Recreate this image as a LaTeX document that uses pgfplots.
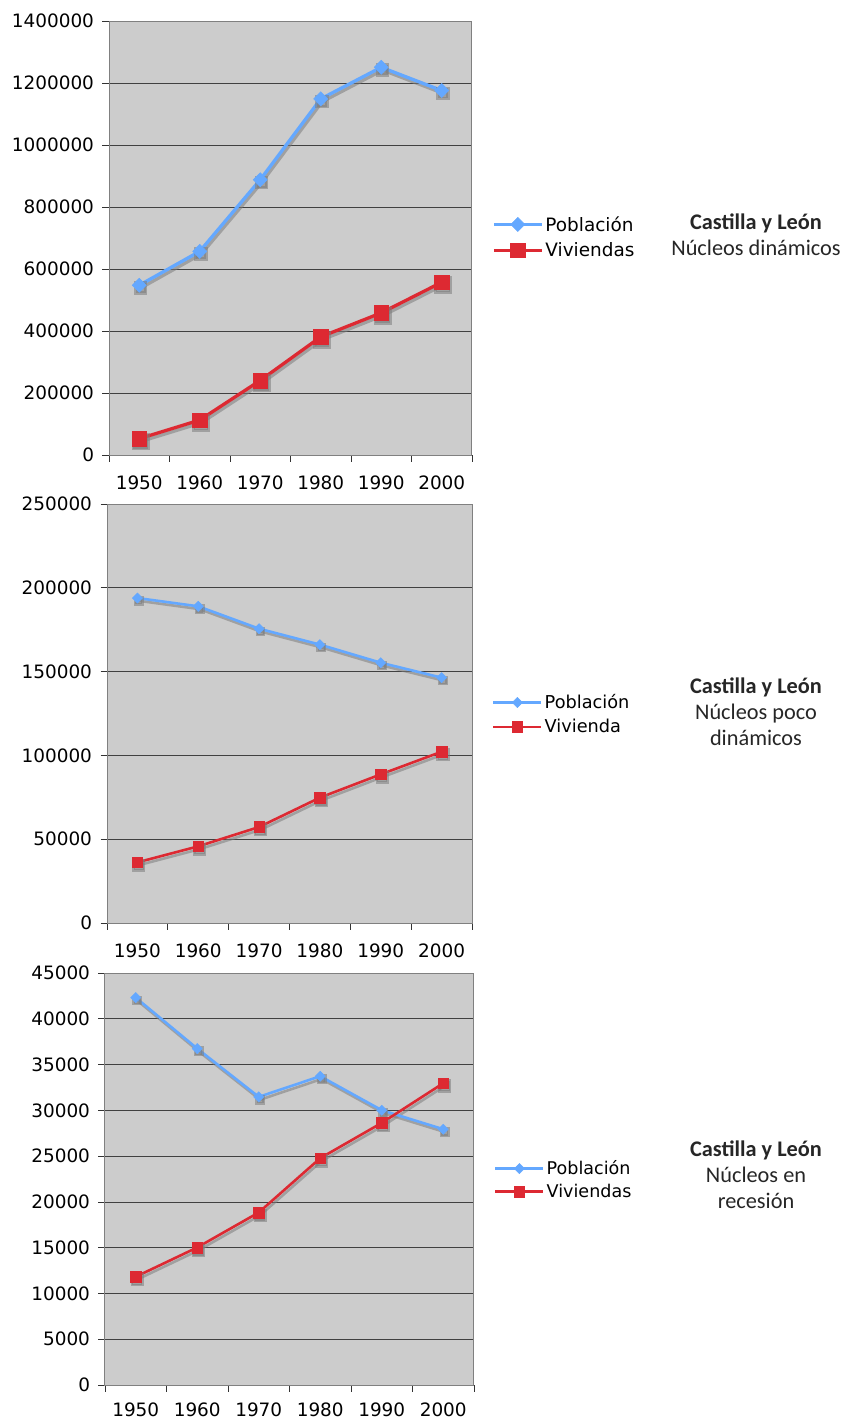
\documentclass[border=0pt]{standalone}
\usepackage{fontspec}
\setmainfont{DejaVu Sans}
\newfontfamily\titlefont{Carlito}
\usepackage{pgfplots}
\usepackage{pgfplotstable}
\pgfplotsset{compat=1.18}

\definecolor{pobl}{RGB}{100,168,255}
\definecolor{viv}{RGB}{221,41,50}
\definecolor{plotbg}{RGB}{204,204,204}
\definecolor{shade}{RGB}{125,125,125}

% Núcleos dinámicos
\pgfplotstableread{
x pob viv
1 547500 52600
2 657000 112700
3 888000 240500
4 1148700 381100
5 1250700 458400
6 1175600 557200
}\dinamicos

% Núcleos poco dinámicos
\pgfplotstableread{
x pob viv
1 193900 36200
2 188950 45750
3 175600 57280
4 166100 74800
5 155300 88700
6 146400 102200
}\pocodinamicos

% Núcleos en recesión
\pgfplotstableread{
x pob viv
1 42310 11824
2 36745 15025
3 31470 18845
4 33725 24775
5 30015 28630
6 27940 32960
}\recesion

\pgfplotsset{
  panel/.style={
    scale only axis,
    xmin=0.5, xmax=6.5, ymin=0,
    xtick={0.5,1.5,...,6.5},
    xticklabels={1950,1960,1970,1980,1990,2000},
    x tick label as interval,
    xtick pos=bottom, ytick pos=left, tick align=outside,
    major tick length=6.5bp,
    tick style={black!80, line width=0.8bp},
    axis line style={black!50, line width=1bp},
    axis background/.style={fill=plotbg},
    ymajorgrids, grid style={black!75, line width=0.8bp},
    scaled y ticks=false,
    /pgf/number format/.cd, fixed, 1000 sep={}, assume math mode=true,
    /pgfplots/.cd,
    tick label style={font=\fontsize{18.5}{21}\selectfont},
    yticklabel style={xshift=-5bp},
    xticklabel style={yshift=-11bp},
    legend image code/.code={\draw[##1, mark repeat=2, mark phase=2]
      plot coordinates {(0bp,0bp) (24bp,0bp) (48bp,0bp)};},
    legend style={draw=none, fill=none, anchor=west, inner sep=0pt,
      font=\fontsize{18.5}{22}\selectfont},
    legend cell align=left,
  },
  shadowline/.style={draw=shade, opacity=0.55, xshift=1.4bp, yshift=-2.8bp,
    mark options={draw=shade, fill=shade}, forget plot},
  pobline/.style={pobl, line width=#1, mark=square*, mark options={rotate=45, fill=pobl, draw=pobl, line width=0.5bp}},
  vivline/.style={viv, line width=#1, mark=square*, mark options={fill=viv, draw=viv, line width=0.5bp}},
}

\begin{document}
\begin{tikzpicture}
\useasboundingbox (0,0) rectangle (845bp,-1421bp);

% --- Núcleos dinámicos ---
\begin{axis}[panel, at={(109bp,-455bp)}, anchor=south west,
  width=363bp, height=434bp,
  ymax=1400000, ytick={0,200000,...,1400000},
  legend style={at={(1.055,0.502)}, row sep=6bp}]
  \addplot[pobline=3.3bp, shadowline, mark size=5bp] table[x=x, y=pob] {\dinamicos};
  \addplot[vivline=3.3bp, shadowline, mark size=7.3bp] table[x=x, y=viv] {\dinamicos};
  \addplot[pobline=3.3bp, mark size=5bp] table[x=x, y=pob] {\dinamicos};
  \addplot[vivline=3.3bp, mark size=7.3bp] table[x=x, y=viv] {\dinamicos};
  \legend{Población, Viviendas}
\end{axis}

% --- Núcleos poco dinámicos ---
\begin{axis}[panel, at={(107bp,-923bp)}, anchor=south west,
  width=365bp, height=419bp,
  ymax=250000, ytick={0,50000,...,250000},
  legend style={at={(1.0545,0.4976)}, row sep=5bp, font=\fontsize{17.8}{21}\selectfont}]
  \addplot[pobline=2.6bp, shadowline, mark size=3.6bp] table[x=x, y=pob] {\pocodinamicos};
  \addplot[vivline=2.6bp, shadowline, mark size=5.3bp] table[x=x, y=viv] {\pocodinamicos};
  \addplot[pobline=2.6bp, mark size=3.6bp] table[x=x, y=pob] {\pocodinamicos};
  \addplot[vivline=2.6bp, mark size=5.3bp] table[x=x, y=viv] {\pocodinamicos};
  \legend{Población, Vivienda}
\end{axis}

% --- Núcleos en recesión ---
\begin{axis}[panel, at={(105bp,-1385bp)}, anchor=south west,
  width=369bp, height=412bp,
  ymax=45000, ytick={0,5000,...,45000},
  xticklabel style={yshift=3bp},
  legend style={at={(1.054,0.4976)}, row sep=4bp, font=\fontsize{17.6}{21}\selectfont}]
  \addplot[pobline=2.6bp, shadowline, mark size=3.6bp] table[x=x, y=pob] {\recesion};
  \addplot[vivline=2.6bp, shadowline, mark size=5.3bp] table[x=x, y=viv] {\recesion};
  \addplot[pobline=2.6bp, mark size=3.6bp] table[x=x, y=pob] {\recesion};
  \addplot[vivline=2.6bp, mark size=5.3bp] table[x=x, y=viv] {\recesion};
  \legend{Población, Viviendas}
\end{axis}

% panel titles
\begin{scope}[every node/.style={align=center, text=black!85,
    font=\titlefont\fontsize{22.4}{26}\selectfont}]
  \node at (756bp,-235bp) {\textbf{Castilla y León}\\Núcleos dinámicos};
  \node at (756bp,-712bp) {\textbf{Castilla y León}\\Núcleos poco\\dinámicos};
  \node at (756bp,-1175bp) {\textbf{Castilla y León}\\Núcleos en\\recesión};
\end{scope}
\end{tikzpicture}
\end{document}
